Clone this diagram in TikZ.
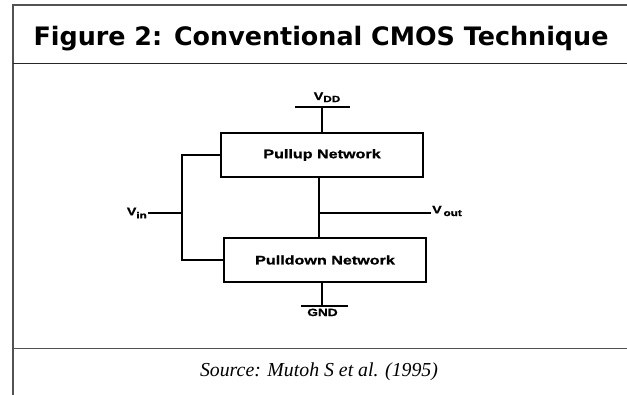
\documentclass[tikz,border=0pt]{standalone}
\usepackage{fontspec}
\usetikzlibrary{calc}
\setmainfont{Liberation Serif}
\newfontfamily\titlefont{DejaVu Sans}
\newfontfamily\diagfont[FakeStretch=1.3,FakeBold=1.2]{Liberation Sans}
\begin{document}
\begin{tikzpicture}[x=1pt,y=-1pt,
  frame/.style={draw=black!68,line width=1.8pt},
  wire/.style={draw=black,line width=1.3pt},
  netbox/.style={draw=black,line width=1.3pt,minimum width=202pt,minimum height=44pt,inner sep=0pt,font=\diagfont\bfseries\fontsize{12.4}{14}\selectfont},
  lbl/.style={inner sep=1pt,font=\diagfont\bfseries\fontsize{11}{13}\selectfont}]
\useasboundingbox (0,0) rectangle (627,395);
% frame
\draw[frame] (13,395) -- (13,5) -- (627,5);
\draw[draw=black!85,line width=1.8pt] (13,63.5) -- (627,63.5);
\draw[frame] (13,348.5) -- (627,348.5);
% title and caption
\node[anchor=base,inner sep=0pt,font=\titlefont\bfseries\fontsize{25.4}{28}\selectfont] (title) at (321,46) {Figure 2: Conventional CMOS Technique};
\node[anchor=base,inner sep=0pt,font=\itshape\fontsize{19.8}{22}\selectfont] (src) at (319,377) {Source: Mutoh S et al. (1995)};
% networks
\node[netbox] (pu) at (322,155) {Pullup Network};
\node[netbox] (pd) at (325,260) {Pulldown Network};
% supply
\coordinate (vdd) at (322,107);
\draw[wire] ($(vdd)+(-27,0)$) -- ($(vdd)+(28,0)$);
\draw[wire] (vdd) -- (pu.north);
\node[lbl,anchor=base] (vddl) at (327,100) {V\raisebox{-0.35ex}{\fontsize{9}{10}\selectfont DD}};
% ground
\coordinate (gnd) at (322,306);
\draw[wire] (gnd |- pd.south) -- (gnd);
\draw[wire] ($(gnd)+(-21,0)$) -- ($(gnd)+(26,0)$);
\node[lbl,anchor=north,font=\diagfont\bfseries\fontsize{10.5}{12}\selectfont] (gndl) at (322.5,307.5) {GND};
% input
\coordinate (jl) at (182,213);
\draw[wire] (pu.west) -| (jl) |- (pd.west);
\node[lbl,anchor=east] (vin) at (148,213) {V\raisebox{-0.55ex}{\fontsize{9}{10}\selectfont in}};
\draw[wire] (jl) -- (jl -| vin.east);
% output
\coordinate (jo) at (319,213);
\draw[wire] (jo |- pu.south) -- (jo |- pd.north);
\node[lbl,anchor=west] (vout) at (431,211) {V\,\raisebox{-0.45ex}{\fontsize{9}{10}\selectfont out}};
\draw[wire] (jo) -- (jo -| vout.west);
\end{tikzpicture}
\end{document}
